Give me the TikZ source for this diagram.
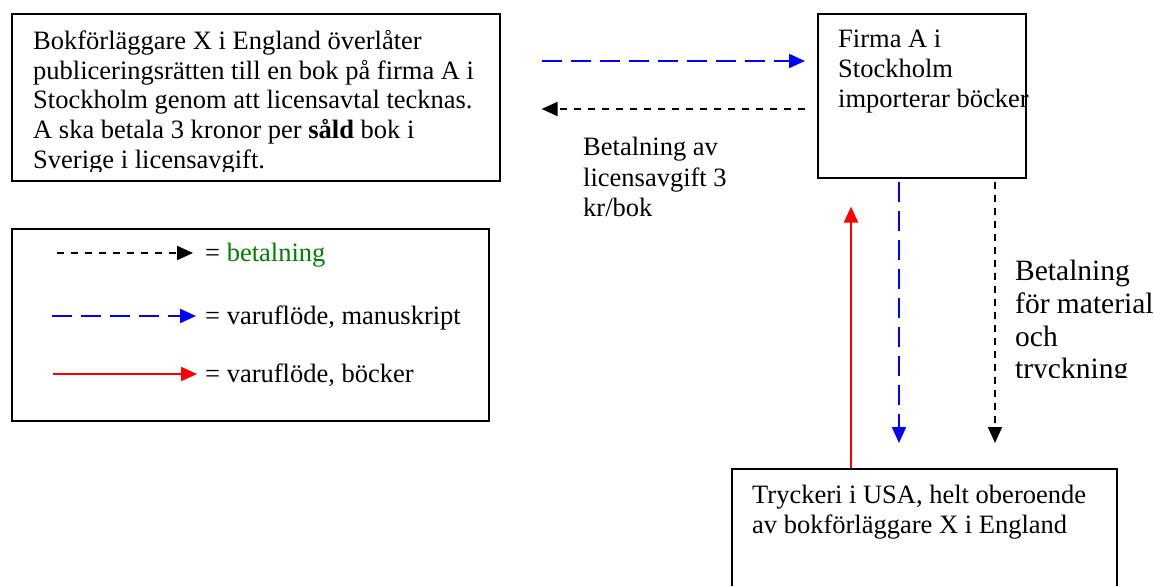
\documentclass[tikz,border=0pt]{standalone}
\usepackage{fontspec}
\setmainfont{Liberation Serif}
\usetikzlibrary{arrows.meta}
\definecolor{legendgreen}{RGB}{0,128,0}
\begin{document}
\begin{tikzpicture}[x=1pt,y=-1pt,
  box/.style={draw, line width=1.6pt, inner sep=0pt, anchor=north west},
  txt/.style={inner sep=0pt, anchor=north west, align=left, font=\fontsize{26.5}{30}\selectfont},
  ltxt/.style={inner sep=0pt, anchor=base west, font=\fontsize{26.5}{28}\selectfont},
  tipstyle/.style={-{Triangle[length=16pt,width=14pt]}},
  pay/.style={tipstyle, line width=2pt, dash pattern=on 7pt off 7pt},
  manu/.style={tipstyle, blue, line width=2pt, dash pattern=on 20pt off 9pt},
  book/.style={tipstyle, red, line width=2pt}]
\useasboundingbox (0,0) rectangle (1154,586);
\clip (0,0) rectangle (1154,586);

% boxes
\node[box, minimum width=488pt, minimum height=167pt] (pub) at (11,13) {};
\node[box, minimum width=208pt, minimum height=164pt] (firm) at (817,13) {};
\node[box, minimum width=477pt, minimum height=192pt] (legend) at (11,228) {};
\node[box, minimum width=385pt, minimum height=160pt] (print) at (731,468) {};

% box texts
\begin{scope}
\clip (11,13) rectangle (499,171);
\node[txt, font=\fontsize{26.5}{29.7}\selectfont] (pubtext) at (33,30) {Bokförläggare X i England överlåter\\publiceringsrätten till en bok på firma A i\\Stockholm genom att licensavtal tecknas.\\A ska betala 3 kronor per \textbf{såld} bok i\\Sverige i licensavgift.};
\end{scope}
\node[txt] (firmtext) at (838,30) {Firma A i\\Stockholm\\importerar böcker};
\node[txt] (printtext) at (752,485) {Tryckeri i USA, helt oberoende\\av bokförläggare X i England};

% horizontal connectors
\draw[manu] ([shift={(41pt,-48pt)}]pub.north east) -- ([shift={(-12pt,-48pt)}]firm.north west);
\draw[pay] ([shift={(-12pt,-96pt)}]firm.north west) -- ([shift={(41pt,-96pt)}]pub.north east);
\node[txt, font=\fontsize{26.5}{30.5}\selectfont] (liclabel) at (583,137) {Betalning av\\licensavgift 3\\kr/bok};

% vertical connectors
\draw[manu] ([shift={(82pt,-3pt)}]firm.south west) -- ([shift={(168pt,25pt)}]print.north west);
\draw[pay, dash pattern=on 7pt off 6pt] ([shift={(178pt,-3pt)}]firm.south west) -- ([shift={(264pt,25pt)}]print.north west);
\draw[book] ([shift={(120pt,0pt)}]print.north west) -- ([shift={(34pt,-28pt)}]firm.south west);
\begin{scope}
\clip (1000,250) rectangle (1154,377);
\node[txt, font=\fontsize{29.5}{32.7}\selectfont] (matlabel) at (1015,260) {Betalning\\för material\\och\\tryckning};
\end{scope}

% legend
\draw[pay] ([shift={(46pt,-25pt)}]legend.north west) -- ([shift={(182pt,-25pt)}]legend.north west);
\draw[manu] ([shift={(41pt,-88pt)}]legend.north west) -- ([shift={(185pt,-88pt)}]legend.north west);
\draw[book] ([shift={(42pt,-146pt)}]legend.north west) -- ([shift={(186pt,-146pt)}]legend.north west);
\node[ltxt] (l1) at (205,261) {= \textcolor{legendgreen}{betalning}};
\node[ltxt] (l2) at (205,324) {= varuflöde, manuskript};
\node[ltxt] (l3) at (205,382) {= varuflöde, böcker};
\end{tikzpicture}
\end{document}
